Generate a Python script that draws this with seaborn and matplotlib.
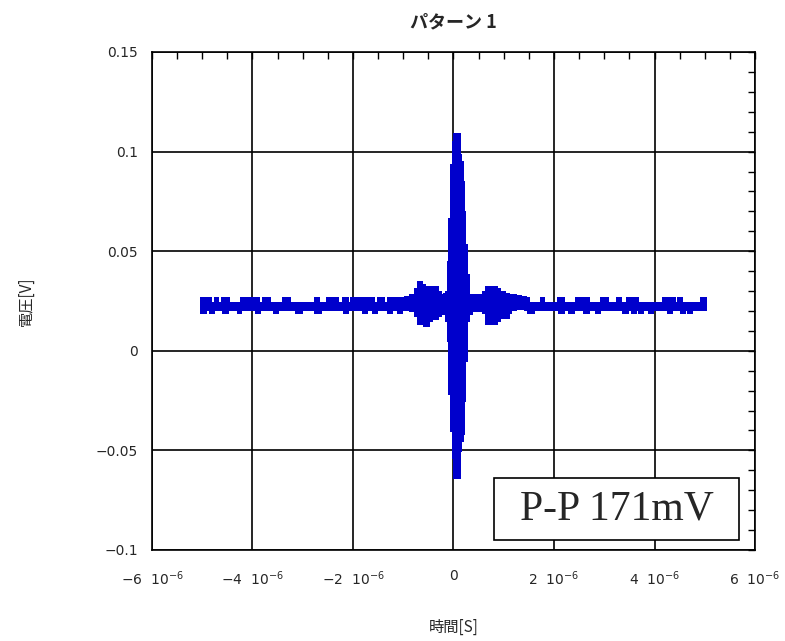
import numpy as np
import matplotlib
matplotlib.use("Agg")
import matplotlib.pyplot as plt
import seaborn as sns
from matplotlib.patches import Rectangle
from matplotlib.ticker import MultipleLocator, FixedLocator

# ---- data (time in microseconds, voltage in V) ----
BAND_START, BAND_END = -5.03, 5.01
BASE_UP, SPIKE_UP = 0.0243, 0.0268
BASE_LO, SPIKE_LO = 0.0207, 0.0190

TOP_SPIKES = [(-5.03, -4.94), (-4.88, -4.84), (-4.74, -4.70), (-4.60, -4.48),
              (-4.24, -4.18), (-4.14, -3.90), (-3.80, -3.68), (-3.40, -3.28),
              (-2.75, -2.69), (-2.51, -2.45), (-2.39, -2.31), (-2.21, -2.11),
              (-2.05, -1.91), (-1.85, -1.75), (-1.71, -1.61), (-1.51, -1.41),
              (-1.31, -1.25), (-1.19, -1.09), (-1.05, -0.98),
              (1.39, 1.49), (1.73, 1.79), (2.07, 2.17), (2.43, 2.67),
              (2.93, 3.06), (3.26, 3.32), (3.46, 3.52), (3.56, 3.66),
              (4.16, 4.26), (4.32, 4.38), (4.46, 4.52), (4.92, 5.01)]
BOTTOM_SPIKES = [(-5.03, -4.94), (-4.84, -4.78), (-4.58, -4.50), (-4.30, -4.24),
                 (-3.94, -3.88), (-3.58, -3.52), (-3.14, -3.04), (-2.75, -2.65),
                 (-2.19, -2.11), (-1.81, -1.75), (-1.61, -1.55), (-1.31, -1.25),
                 (-1.11, -1.05),
                 (1.49, 1.59), (2.09, 2.17), (2.29, 2.37), (2.59, 2.67),
                 (2.83, 2.89), (3.38, 3.46), (3.56, 3.62), (3.68, 3.76),
                 (3.88, 3.96), (4.26, 4.32), (4.52, 4.58), (4.66, 4.72)]

# burst around t = 0: step start times with upper / lower envelope
BURST_T = [-0.96, -0.86, -0.76, -0.70, -0.64, -0.58, -0.50, -0.44, -0.38, -0.32,
           -0.26, -0.20, -0.16, -0.12, -0.10, -0.06, -0.02, 0.00, 0.10, 0.12,
           0.16, 0.18, 0.20, 0.24, 0.28, 0.34, 0.58, 0.64, 0.74, 0.84,
           0.90, 1.00, 1.08, 1.13, 1.23, 1.33]
BURST_UP = [0.0276, 0.0286, 0.0317, 0.0352, 0.0337, 0.0327, 0.0312, 0.0327, 0.0327, 0.0302,
            0.0286, 0.0291, 0.0302, 0.0452, 0.0668, 0.0940, 0.1055, 0.1095, 0.0990, 0.0955,
            0.0854, 0.0704, 0.0538, 0.0387, 0.0286, 0.0286, 0.0302, 0.0327, 0.0327, 0.0317,
            0.0302, 0.0291, 0.0286, 0.0286, 0.0281, 0.0276]
BURST_LO = [0.0206, 0.0201, 0.0176, 0.0136, 0.0136, 0.0126, 0.0151, 0.0161, 0.0161, 0.0176,
            0.0186, 0.0186, 0.0151, 0.0050, -0.0216, -0.0402, -0.0538, -0.0638, -0.0503, -0.0452,
            -0.0417, -0.0251, -0.0050, 0.0151, 0.0186, 0.0201, 0.0191, 0.0136, 0.0136, 0.0151,
            0.0166, 0.0166, 0.0191, 0.0206, 0.0211, 0.0211]
BURST_END = 1.43

X_TICKS = [-6, -4, -2, 0, 2, 4, 6]
Y_TICKS = [-0.1, -0.05, 0, 0.05, 0.1, 0.15]
Y_TICK_LABELS = ["\u22120.1", "\u22120.05", "0", "0.05", "0.1", "0.15"]

TITLE = "パターン 1"
XLABEL = "時間[S]"
YLABEL = "電圧[V]"
NOTE = "P-P 171mV"
BLUE = "#0000CC"

# ---- build envelopes (sample-and-hold on a fine time grid) ----
t = np.arange(BAND_START, BAND_END + 1e-9, 0.002)
upper = np.full_like(t, BASE_UP)
lower = np.full_like(t, BASE_LO)
for a, b in TOP_SPIKES:
    upper[(t >= a) & (t <= b)] = SPIKE_UP
for a, b in BOTTOM_SPIKES:
    lower[(t >= a) & (t <= b)] = SPIKE_LO
in_burst = (t >= BURST_T[0]) & (t < BURST_END)
idx = np.searchsorted(BURST_T, t[in_burst], side="right") - 1
upper[in_burst] = np.array(BURST_UP)[idx]
lower[in_burst] = np.array(BURST_LO)[idx]

# ---- plot ----
sns.set_style("white")
plt.rcParams["font.family"] = ["Noto Sans CJK JP", "DejaVu Sans"]
plt.rcParams["mathtext.default"] = "regular"

fig = plt.figure(figsize=(7.85, 6.41), dpi=100)
ax = fig.add_axes([0.1936, 0.1420, 0.7682, 0.7769])

# trace drawn as a dense stack of vertical strokes between the envelopes
ax.vlines(t, lower, upper, color=BLUE, linewidth=1.0, antialiased=False, zorder=3)

ax.set_xlim(-6, 6)
ax.set_ylim(-0.1, 0.15)
ax.xaxis.set_major_locator(FixedLocator(X_TICKS))
ax.xaxis.set_minor_locator(MultipleLocator(0.5))
ax.yaxis.set_major_locator(FixedLocator(Y_TICKS))
ax.yaxis.set_minor_locator(MultipleLocator(0.01))

xlabels = []
for v in X_TICKS:
    if v == 0:
        xlabels.append("0")
    else:
        sign = "\u2212" if v < 0 else ""
        xlabels.append(f"{sign}{abs(v)}  10$^{{\u22126}}$")
ax.set_xticklabels(xlabels, fontsize=10, family="DejaVu Sans")
ax.set_yticklabels(Y_TICK_LABELS, fontsize=10, family="DejaVu Sans")

ax.tick_params(which="both", direction="in", top=True, right=True,
               color="black", width=1, length=5)
ax.tick_params(axis="x", which="major", pad=14)
ax.tick_params(axis="y", which="major", pad=10)

ax.grid(True, which="major", color="black", linewidth=1.2)
ax.set_axisbelow(True)
for s in ax.spines.values():
    s.set_color("black")
    s.set_linewidth(1.2)

ax.set_title(TITLE, fontsize=13, fontweight="bold", pad=18)
ax.set_xlabel(XLABEL, fontsize=11, labelpad=22)
ax.set_ylabel(YLABEL, fontsize=11, labelpad=44)

ax.add_patch(Rectangle((0.5672, 0.0201), 0.4063, 0.1245, transform=ax.transAxes,
                       facecolor="white", edgecolor="black", linewidth=1.2, zorder=5))
ax.text(0.7703, 0.0823, NOTE, transform=ax.transAxes, ha="center", va="center",
        fontsize=30, family="Liberation Serif", zorder=6)

fig.savefig("out.png", dpi=100)
